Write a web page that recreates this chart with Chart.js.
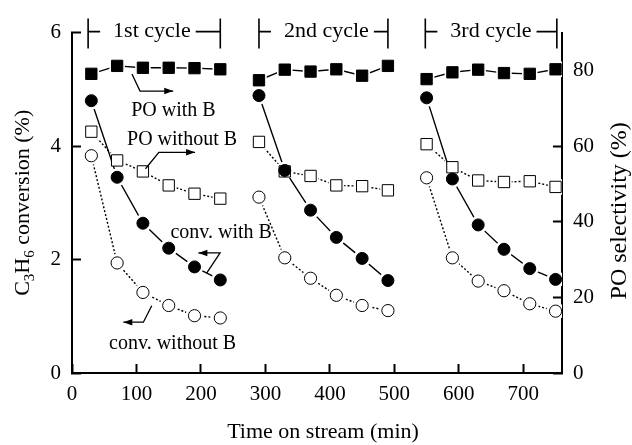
<!DOCTYPE html>
<html><head><meta charset="utf-8">
<script src="https://cdn.jsdelivr.net/npm/chart.js@4/dist/chart.umd.min.js"></script>
<style>html,body{margin:0;padding:0;background:#fff;}#wrap{width:632px;height:445px;}</style>
</head><body><div id="wrap"><canvas id="c" width="632" height="445"></canvas></div>
<script>
// ---- data ----
const times = [30,70,110,150,190,230, 290,330,370,410,450,490, 550,590,630,670,710,750];
const perCycle = 6;
const convWithB    = [4.80,3.45,2.64,2.20,1.87,1.64, 4.89,3.57,2.87,2.39,2.02,1.63, 4.85,3.42,2.61,2.18,1.84,1.65];
const convWithoutB = [3.83,1.94,1.42,1.19,1.01,0.97, 3.10,2.03,1.67,1.37,1.19,1.10, 3.44,2.03,1.62,1.45,1.22,1.09];
const poWithB      = [79.1,81.2,80.7,80.7,80.6,80.3, 77.4,80.2,79.7,80.3,78.6,81.2, 77.7,79.5,80.2,79.3,79.1,80.3];
const poWithoutB   = [63.8,56.2,53.3,49.6,47.4,46.1, 61.1,53.3,52.1,49.6,49.4,48.3, 60.5,54.4,50.9,50.5,50.7,49.2];
const cycleLabels = ['1st cycle','2nd cycle','3rd cycle'];
const cycleStart = [25,290,548];
const cycleEnd   = [230,490,752];
const xTicks = [0,100,200,300,400,500,600,700];
const leftTicks = [0,2,4,6];
const rightTicks = [0,20,40,60,80];
const xTitle = 'Time on stream (min)';
const rightTitle = 'PO selectivity (%)';
const leftTitleParts = [['C',0],['3',1],['H',0],['6',1],[' conversion (%)',0]];
// annotations (x in min, y in left-axis %)
const notes = [
  {text:'PO with B',       tx:157.4, ty:4.62,  path:[[93,5.27],[105.5,4.97],[157,4.97]]},
  {text:'PO without B',    tx:170.7, ty:4.116, path:[[114,3.60],[134.7,3.89],[190.9,3.89]]},
  {text:'conv. with B',    tx:231.3, ty:2.477, path:[[209.1,1.766],[229.7,2.116],[196,2.116]]},
  {text:'conv. without B', tx:156,   ty:0.523, path:[[123.7,1.186],[110.7,0.895],[79.6,0.895]]}
];

const SERIF = '"Liberation Serif", "Times New Roman", serif';

function buildPoints(vals){
  const pts = [];
  times.forEach((t,i)=>{
    if(i>0 && i%perCycle===0) pts.push({x:(times[i-1]+t)/2, y:null});
    pts.push({x:t, y:vals[i]});
  });
  return pts;
}

const seriesDefs = [
  {vals:poWithB,      axis:'y1', style:'rect',   fill:'#000', dash:[],    r:8},
  {vals:convWithB,    axis:'y',  style:'circle', fill:'#000', dash:[],    r:6},
  {vals:poWithoutB,   axis:'y1', style:'rect',   fill:'#fff', dash:[2,2], r:8},
  {vals:convWithoutB, axis:'y',  style:'circle', fill:'#fff', dash:[2,2], r:6.1}
];

const datasets = [];
seriesDefs.forEach(s=>{
  const d = buildPoints(s.vals);
  datasets.push({data:d, yAxisID:s.axis, borderColor:'#000', borderWidth:1.4, borderDash:s.dash,
    pointStyle:s.style, pointRadius:s.r+3, pointBackgroundColor:'#fff', pointBorderColor:'#fff',
    pointBorderWidth:0, spanGaps:false, fill:false, tension:0, order:2});
});
seriesDefs.forEach(s=>{
  const d = buildPoints(s.vals);
  datasets.push({data:d, yAxisID:s.axis, showLine:false, pointStyle:s.style, pointRadius:s.r,
    pointBackgroundColor:s.fill, pointBorderColor:'#000', pointBorderWidth:1, order:1});
});

function arrow(ctx, pts){
  ctx.beginPath();
  ctx.moveTo(pts[0][0],pts[0][1]);
  for(let i=1;i<pts.length;i++) ctx.lineTo(pts[i][0],pts[i][1]);
  ctx.stroke();
  const a = pts[pts.length-2], b = pts[pts.length-1];
  const ang = Math.atan2(b[1]-a[1], b[0]-a[0]);
  const L=9, W=3.2;
  ctx.beginPath();
  ctx.moveTo(b[0],b[1]);
  ctx.lineTo(b[0]-L*Math.cos(ang)+W*Math.sin(ang), b[1]-L*Math.sin(ang)-W*Math.cos(ang));
  ctx.lineTo(b[0]-L*Math.cos(ang)-W*Math.sin(ang), b[1]-L*Math.sin(ang)+W*Math.cos(ang));
  ctx.closePath(); ctx.fill();
}

const overlay = {
  id:'overlay',
  afterDraw(chart){
    const {ctx, chartArea:ca, scales:{x,y}} = chart;
    ctx.save();
    ctx.fillStyle='#000'; ctx.strokeStyle='#000';
    // notes
    ctx.font = '20px '+SERIF; ctx.textAlign='center'; ctx.textBaseline='middle';
    ctx.lineWidth = 1.3;
    notes.forEach(n=>{
      ctx.fillText(n.text, x.getPixelForValue(n.tx), y.getPixelForValue(n.ty));
      arrow(ctx, n.path.map(p=>[x.getPixelForValue(p[0]), y.getPixelForValue(p[1])]));
    });
    // cycle brackets
    ctx.font = '22px '+SERIF; ctx.textAlign='left';
    ctx.lineWidth = 1.6;
    const ym = ca.top - 1;
    cycleLabels.forEach((lab,i)=>{
      const x0 = x.getPixelForValue(cycleStart[i]), x1 = x.getPixelForValue(cycleEnd[i]);
      const tx = x0 + 25, tw = ctx.measureText(lab).width;
      ctx.fillText(lab, tx, ym);
      ctx.beginPath();
      ctx.moveTo(x0, ca.top-14); ctx.lineTo(x0, ca.top+16);
      ctx.moveTo(x1, ca.top-14); ctx.lineTo(x1, ca.top+16);
      ctx.moveTo(x0, ym); ctx.lineTo(x0+12, ym);
      ctx.moveTo(tx+tw+5, ym); ctx.lineTo(x1, ym);
      ctx.stroke();
    });
    // x title
    ctx.font = '22px '+SERIF; ctx.textAlign='center'; ctx.textBaseline='middle';
    ctx.fillText(xTitle, (ca.left+ca.right)/2 + 6, 432);
    // left title with subscripts
    ctx.save();
    ctx.translate(29, (ca.top+ca.bottom)/2);
    ctx.rotate(-Math.PI/2);
    ctx.textAlign='left'; ctx.textBaseline='alphabetic';
    const mainF = '22px '+SERIF, subF = '15px '+SERIF;
    let total = 0;
    leftTitleParts.forEach(p=>{ ctx.font = p[1]?subF:mainF; total += ctx.measureText(p[0]).width; });
    let cx = -total/2;
    leftTitleParts.forEach(p=>{
      ctx.font = p[1]?subF:mainF;
      ctx.fillText(p[0], cx, p[1]?5:0);
      cx += ctx.measureText(p[0]).width;
    });
    ctx.restore();
    // right title
    ctx.save();
    ctx.translate(626, (ca.top+ca.bottom)/2 + 8);
    ctx.rotate(-Math.PI/2);
    ctx.font = '24px '+SERIF; ctx.textAlign='center'; ctx.textBaseline='alphabetic';
    ctx.fillText(rightTitle, 0, 0);
    ctx.restore();
    ctx.restore();
  }
};

const axisCommon = {
  grid:{display:true, drawOnChartArea:false, drawTicks:true, tickLength:-9, tickWidth:2, tickColor:'#000'},
  border:{display:true, color:'#000', width:2}
};

new Chart(document.getElementById('c'), {
  type:'line',
  data:{datasets},
  options:{
    responsive:false, animation:false, devicePixelRatio:1,
    layout:{padding:{top:29,left:0,right:0,bottom:0}},
    plugins:{legend:{display:false}, tooltip:{enabled:false}},
    scales:{
      x:{type:'linear', position:'bottom', min:0, max:760, ...axisCommon,
        afterBuildTicks:s=>{s.ticks = xTicks.map(v=>({value:v}));},
        afterFit:s=>{s.height=72;},
        ticks:{color:'#000', font:{family:SERIF, size:21}, padding:18, maxRotation:0, autoSkip:false}},
      y:{type:'linear', position:'left', min:0, max:6, ...axisCommon,
        afterBuildTicks:s=>{s.ticks = leftTicks.map(v=>({value:v}));},
        afterFit:s=>{s.width=72;},
        ticks:{color:'#000', font:{family:SERIF, size:21}, padding:20, autoSkip:false}},
      y1:{type:'linear', position:'right', min:0, max:90, ...axisCommon,
        afterBuildTicks:s=>{s.ticks = rightTicks.map(v=>({value:v}));},
        afterFit:s=>{s.width=70;},
        ticks:{color:'#000', font:{family:SERIF, size:21}, padding:20, autoSkip:false}}
    }
  },
  plugins:[overlay]
});
</script></body></html>
